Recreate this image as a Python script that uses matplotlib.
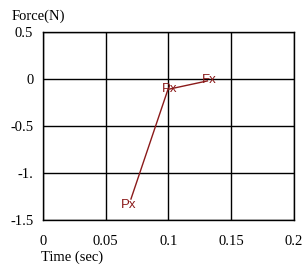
import matplotlib
matplotlib.use("Agg")
import matplotlib.pyplot as plt

# data
time_sec = [0.0701, 0.0996, 0.131]
force_n = [-1.277, -0.11, -0.02]
point_labels = ["Px", "Px", "Fx"]

x_ticks = [0, 0.05, 0.1, 0.15, 0.2]
x_tick_labels = ["0", "0.05", "0.1", "0.15", "0.2"]
y_ticks = [0.5, 0, -0.5, -1.0, -1.5]
y_tick_labels = ["0.5", "0", "-0.5", "-1.", "-1.5"]

line_color = "#8b1a1a"
serif = "Liberation Serif"
label_offsets = [(-1.5, -4), (1, 0), (1.5, 1)]

fig = plt.figure(figsize=(3.07, 2.65), dpi=100)
ax = fig.add_axes([0.140, 0.170, 0.8176, 0.709])

ax.plot(time_sec, force_n, color=line_color, linewidth=1)
for x, y, lab, off in zip(time_sec, force_n, point_labels, label_offsets):
    ax.annotate(lab, (x, y), xytext=off, textcoords="offset points",
                color=line_color, fontsize=9.5, family="Liberation Sans",
                ha="center", va="center")

ax.set_xlim(0, 0.2)
ax.set_ylim(-1.5, 0.5)
ax.set_xticks(x_ticks)
ax.set_xticklabels(x_tick_labels, family=serif, fontsize=10.5)
ax.set_yticks(y_ticks)
ax.set_yticklabels(y_tick_labels, family=serif, fontsize=10.5)
ax.tick_params(axis="x", length=0, pad=11)
ax.tick_params(axis="y", length=0, pad=7)
ax.grid(True, color="black", linewidth=1)
for s in ax.spines.values():
    s.set_color("black")
    s.set_linewidth(1)

fig.text(0.037, 0.915, "Force(N)", family=serif, fontsize=10.5, ha="left", va="bottom")
fig.text(0.135, 0.005, "Time (sec)", family=serif, fontsize=10.5, ha="left", va="bottom")

fig.savefig("out.png", dpi=100)
